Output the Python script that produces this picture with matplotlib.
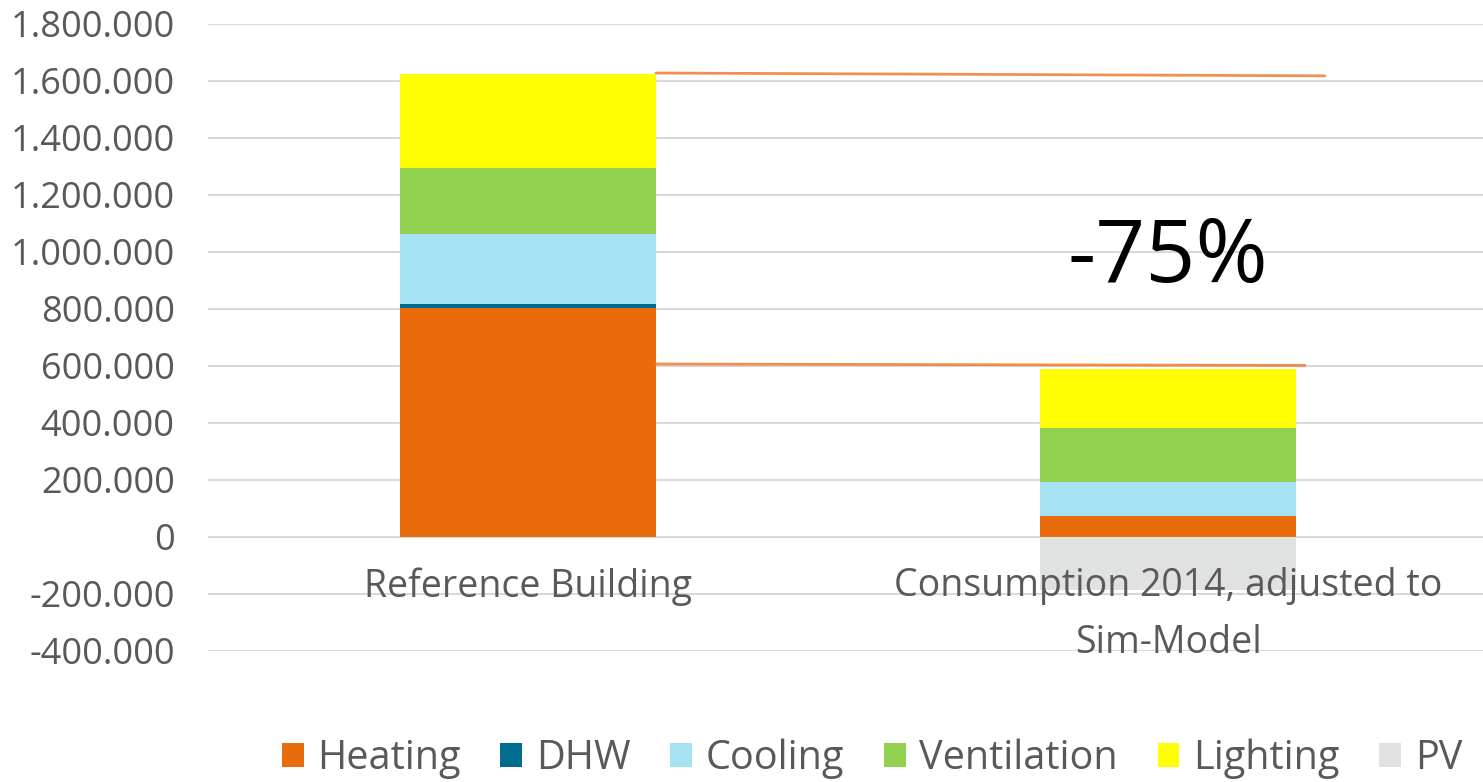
import numpy as np
import matplotlib.pyplot as plt
from matplotlib.ticker import FuncFormatter, MultipleLocator

# energy balance per use, kWh/a
categories = ["Reference Building", "Consumption 2014, adjusted to\nSim-Model"]
series = ["Heating", "DHW", "Cooling", "Ventilation", "Lighting", "PV"]
heating = [801000, 73000]
dhw = [15000, 0]
cooling = [247000, 118000]
ventilation = [232000, 190000]
lighting = [328000, 209000]
pv = [0, -187000]
colors = ["#EA6B0B", "#006D8F", "#A7E2F2", "#92D050", "#FFFF00", "#E0E2E2"]

# guide lines from reference total down to the adjusted total
upper_line = ([0.2, 1.245], [1627000, 1617000])
lower_line = ([0.2, 1.214], [606000, 601000])
reduction_label = "-75%"

plt.rcParams['font.family'] = ['Open Sans', 'DejaVu Sans']
text_gray = "#595959"

fig = plt.figure(figsize=(14.83, 7.82), dpi=100)
ax = fig.add_axes([0.1403, 0.1679, 0.8631, 0.8018])

x = np.arange(len(categories))
width = 0.4
bottom = np.zeros(len(categories))
positive = [heating, dhw, cooling, ventilation, lighting]
for name, vals, col in zip(series[:5], positive, colors[:5]):
    ax.bar(x, vals, width, bottom=bottom, color=col, label=name, zorder=2)
    bottom += np.array(vals)
ax.bar(x, pv, width, color=colors[5], label=series[5], zorder=2)

ax.plot(*upper_line, color="#EE7D31", lw=2, alpha=0.85, zorder=3, solid_capstyle="round")
ax.plot(*lower_line, color="#EE7D31", lw=2, alpha=0.85, zorder=3, solid_capstyle="round")
ax.text(1.0, 975000, reduction_label, fontsize=63, color="black",
        ha="center", va="center", zorder=4)

ax.set_xlim(-0.5, 1.5)
ax.set_ylim(-400000, 1800000)
ax.yaxis.set_major_locator(MultipleLocator(200000))
ax.yaxis.set_major_formatter(FuncFormatter(lambda v, p: f"{int(round(v)):,}".replace(",", ".")))
ax.grid(axis="y", color="#D9D9D9", lw=1.5, zorder=0)
ax.set_axisbelow(True)
for s in ax.spines.values():
    s.set_visible(False)

# category labels sit just below the zero line, over the PV bar
ax.set_xticks([])
for xi, cat in zip(x, categories):
    ax.annotate(cat, (xi, 0), xytext=(0, -22), textcoords="offset points",
                ha="center", va="top", fontsize=27, color=text_gray,
                linespacing=1.65, zorder=5)
ax.tick_params(axis="y", length=0, pad=24, labelsize=26, labelcolor=text_gray)

leg = fig.legend(loc="center", bbox_to_anchor=(0.588, 0.03), ncol=6, frameon=False,
                 fontsize=28.5, handlelength=0.55, handleheight=0.55,
                 handletextpad=0.35, columnspacing=1.0, labelcolor=text_gray)

fig.savefig("out.png", dpi=100)
